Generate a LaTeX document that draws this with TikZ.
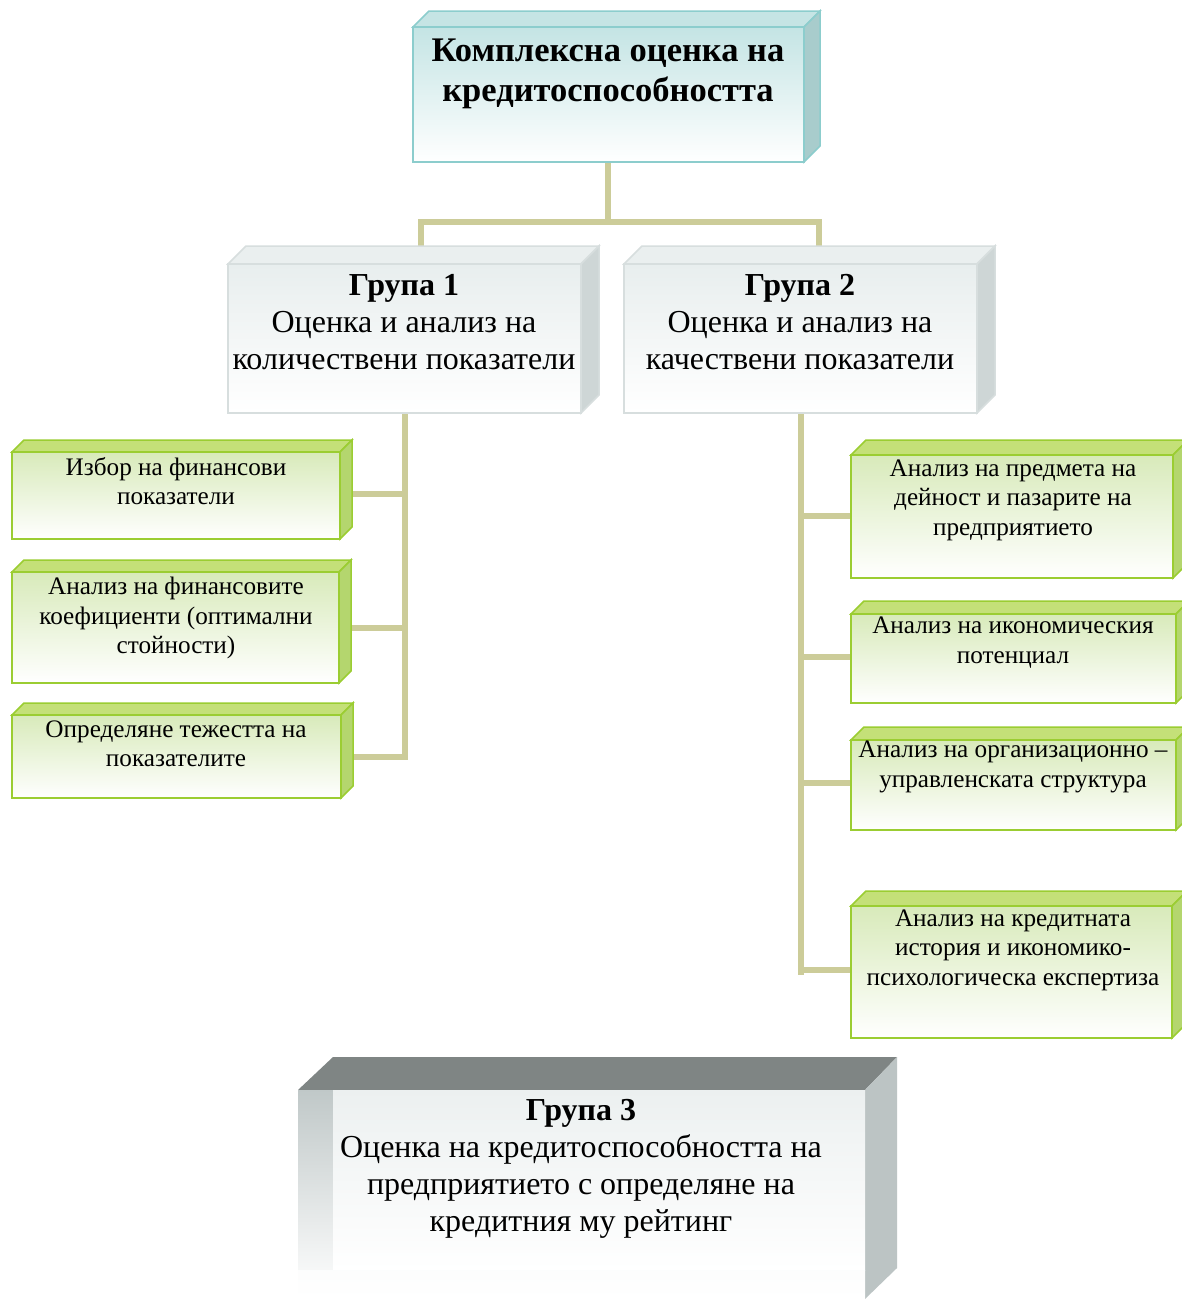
\documentclass[tikz,border=0pt]{standalone}
\usepackage{fontspec}
\setmainfont{Liberation Serif}
\definecolor{tealb}{RGB}{140,205,205}
\definecolor{tealt}{RGB}{197,228,228}
\definecolor{teals}{RGB}{168,204,204}
\definecolor{tealf}{RGB}{196,228,228}
\definecolor{grayb}{RGB}{215,222,222}
\definecolor{grayt}{RGB}{234,239,239}
\definecolor{grays}{RGB}{206,214,214}
\definecolor{grayf}{RGB}{232,238,238}
\definecolor{greenb}{RGB}{155,205,50}
\definecolor{greent}{RGB}{196,224,120}
\definecolor{greens}{RGB}{180,214,110}
\definecolor{greenf}{RGB}{216,234,186}
\definecolor{conncol}{RGB}{204,204,153}
\definecolor{darktop}{RGB}{127,133,132}
\definecolor{lside}{RGB}{192,200,200}
\definecolor{rside}{RGB}{188,196,196}
\definecolor{bfront}{RGB}{236,240,240}
\tikzset{
  conn/.style={draw=conncol, line width=6pt},
  teal front/.style={draw=tealb, line width=2pt, top color=tealf, bottom color=white},
  teal top/.style={fill=tealt, draw=tealb, line width=1.5pt},
  teal side/.style={fill=teals, draw=tealb, line width=1.5pt},
  gray front/.style={draw=grayb, line width=2pt, top color=grayf, bottom color=white},
  gray top/.style={fill=grayt, draw=grayb, line width=1.5pt},
  gray side/.style={fill=grays, draw=grayb, line width=1.5pt},
  green front/.style={draw=greenb, line width=2pt, top color=greenf, bottom color=white},
  green top/.style={fill=greent, draw=greenb, line width=1.5pt},
  green side/.style={fill=greens, draw=greenb, line width=1.5pt},
  ttl/.style={font=\fontsize{34.5}{40}\selectfont\bfseries, align=center},
  grp/.style={font=\fontsize{32}{37}\selectfont, align=center},
  sml/.style={font=\fontsize{25.2}{29.5}\selectfont, align=center},
}
% #1 name, #2 x1, #3 y1, #4 x2, #5 y2, #6 depth, #7 kind
\newcommand\cubebox[7]{%
  \path[#7 top] (#2,#3) -- (#2+#6,#3-#6) -- (#4+#6,#3-#6) -- (#4,#3) -- cycle;
  \path[#7 side] (#4,#3) -- (#4+#6,#3-#6) -- (#4+#6,#5-#6) -- (#4,#5) -- cycle;
  \node[#7 front, inner sep=0pt, outer sep=0pt, minimum width={(#4-#2)*1pt}, minimum height={(#5-#3)*1pt}] (#1) at ({(#2+#4)/2},{(#3+#5)/2}) {};
}
\begin{document}
\begin{tikzpicture}[x=1pt,y=-1pt]
\useasboundingbox (0,0) rectangle (1182,1299);
\clip (0,0) rectangle (1182,1299);
\fill[white] (0,0) rectangle (1182,1299);

% connector end points on the backs of the group boxes
\coordinate (g1back) at (421,250);
\coordinate (g2back) at (819,250);
\coordinate (hub) at (608,222);

% connectors (drawn first, boxes go over them)
\draw[conn] (608,160) -- (hub);
\draw[conn] (g1back) |- (hub) -| (g2back);
\draw[conn] (404.5,410) -- (404.5,760);
\draw[conn] (800.5,410) -- (800.5,975);
\draw[conn] (404.5,494) -- (345,494);
\draw[conn] (404.5,628) -- (345,628);
\draw[conn] (404.5,757) -- (345,757);
\draw[conn] (800.5,516) -- (855,516);
\draw[conn] (800.5,657) -- (855,657);
\draw[conn] (800.5,783) -- (855,783);
\draw[conn] (800.5,970) -- (855,970);

% boxes
\cubebox{top}{413}{27}{804}{162}{16}{teal}
\cubebox{g1}{228}{264}{581}{413}{18}{gray}
\cubebox{g2}{624}{264}{977}{413}{18}{gray}
\cubebox{a}{12}{452}{340}{539}{12}{green}
\cubebox{b}{12}{572}{339}{683}{12}{green}
\cubebox{c}{12}{715}{341}{798}{12}{green}
\cubebox{d}{851}{455}{1173}{578}{15}{green}
\cubebox{e}{851}{614}{1176}{703}{13}{green}
\cubebox{f}{851}{740}{1176}{830}{13}{green}
\cubebox{g}{851}{906}{1172}{1038}{15}{green}

% bottom box (group 3)
\fill[darktop] (298,1090) -- (333,1057) -- (897,1057) -- (865,1090) -- cycle;
\shade[top color=lside, bottom color=white] (298,1090) rectangle (333,1299);
\fill[rside] (865,1090) -- (897,1057) -- (897,1268) -- (865,1299) -- cycle;
\shade[top color=bfront, bottom color=white] (333,1090) rectangle (865,1270);
\shade[top color=white!96!lside, bottom color=white] (298,1270) rectangle (865,1299);
\node[inner sep=0pt, outer sep=0pt, minimum width=532pt, minimum height=180pt] (g3) at (599,1180) {};

% texts
\node[ttl] (ttop) at (608,74) {Комплексна оценка на\\кредитоспособността};
\node[grp] (tg1) at (404,322) {\textbf{Група 1}\\Оценка и анализ на\\количествени показатели};
\node[grp] (tg2) at (800,322) {\textbf{Група 2}\\Оценка и анализ на\\качествени показатели};
\node[sml] (ta) at (176,481) {Избор на финансови\\показатели};
\node[sml] (tb) at (176,618) {Анализ на финансовите\\коефициенти (оптимални\\стойности)};
\node[sml] (tc) at (176,744) {Определяне тежестта на\\показателите};
\node[sml] (td) at (1013,500) {Анализ на предмета на\\дейност и пазарите на\\предприятието};
\node[sml] (te) at (1013,642.5) {Анализ на икономическия\\потенциал};
\node[sml] (tf) at (1013,767) {Анализ на организационно –\\управленската структура};
\node[sml] (tgg) at (1013,950) {Анализ на кредитната\\история и икономико-\\психологическа експертиза};
\node[grp] (tg3) at (581,1168.5) {\textbf{Група 3}\\Оценка на кредитоспособността на\\предприятието с определяне на\\кредитния му рейтинг};
\end{tikzpicture}
\end{document}
